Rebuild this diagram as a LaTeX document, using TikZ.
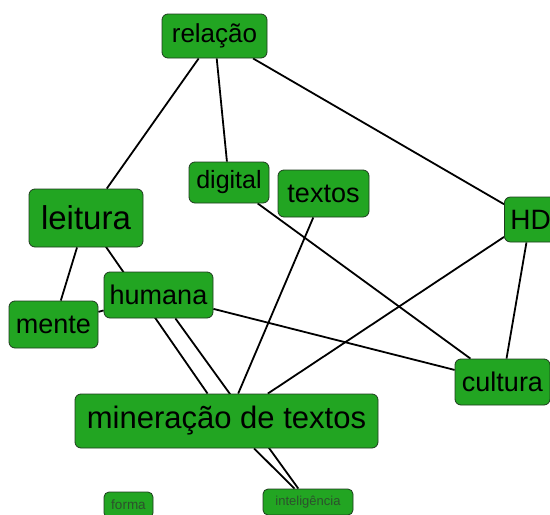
\documentclass[tikz,border=0pt]{standalone}
\usepackage{fontspec}
\setmainfont{Liberation Sans}
\usetikzlibrary{backgrounds}
\definecolor{nodegreen}{RGB}{34,165,34}
\definecolor{nodeborder}{RGB}{30,60,30}
\definecolor{smalltext}{RGB}{45,80,45}
\newcommand{\cmfs}[1]{\fontsize{#1}{#1}\selectfont}
\tikzset{
  concept/.style={draw=nodeborder, line width=0.8pt, fill=nodegreen, rounded corners=6pt,
    inner sep=0pt, align=center, text=black},
  smallconcept/.style={concept, text=smalltext, rounded corners=5pt},
  link/.style={draw=black, line width=1.8pt},
}
\begin{document}
\begin{tikzpicture}[x=1pt,y=-1pt]
\useasboundingbox (0,0) rectangle (550,515);
\node[concept, minimum width=105, minimum height=44, font={\cmfs{26}}] (relacao) at (214.5,36) {relação};
\node[concept, minimum width=80, minimum height=41, font={\cmfs{25}}] (digital) at (229,182.5) {digital};
\node[concept, minimum width=114, minimum height=58, font={\cmfs{33}}] (leitura) at (86,218) {leitura};
\node[concept, minimum width=91, minimum height=47, font={\cmfs{27}}] (textos) at (323.5,193.5) {textos};
\node[concept, anchor=west, text width=40, align=left, inner xsep=6, minimum height=45, font={\cmfs{28}}] (hd) at (504,219.5) {HD};
\node[concept, minimum width=109, minimum height=46, font={\cmfs{27}}] (humana) at (158.5,295) {humana};
\node[concept, minimum width=89, minimum height=47, font={\cmfs{27}}] (mente) at (53.5,324.5) {mente};
\node[concept, minimum width=303, minimum height=54, font={\cmfs{31}}] (mineracao) at (226.5,421) {mineração de textos};
\node[concept, minimum width=95, minimum height=46, font={\cmfs{27}}] (cultura) at (502.5,382) {cultura};
\node[smallconcept, minimum width=49, minimum height=26, font={\cmfs{13.5}}] (forma) at (128.5,505) {forma};
\node[smallconcept, minimum width=90, minimum height=26, font={\cmfs{13}}] (inteligencia) at (308,502) {inteligência};
\begin{scope}[on background layer]
\draw[link] (relacao) -- (leitura);
\draw[link] (relacao) -- (digital);
\draw[link] (relacao) -- (hd);
\draw[link] (leitura) -- (mente);
\draw[link] (leitura.center) -- (mineracao);
\draw[link] (mente) -- (humana);
\draw[link] (humana) -- (inteligencia);
\draw[link] (humana) -- (cultura);
\draw[link] (mineracao) -- (inteligencia);
\draw[link] (textos) -- (mineracao);
\draw[link] (digital) -- (cultura);
\draw[link] (hd) -- (mineracao);
\draw[link] (hd) -- (cultura);
\end{scope}
\end{tikzpicture}
\end{document}
